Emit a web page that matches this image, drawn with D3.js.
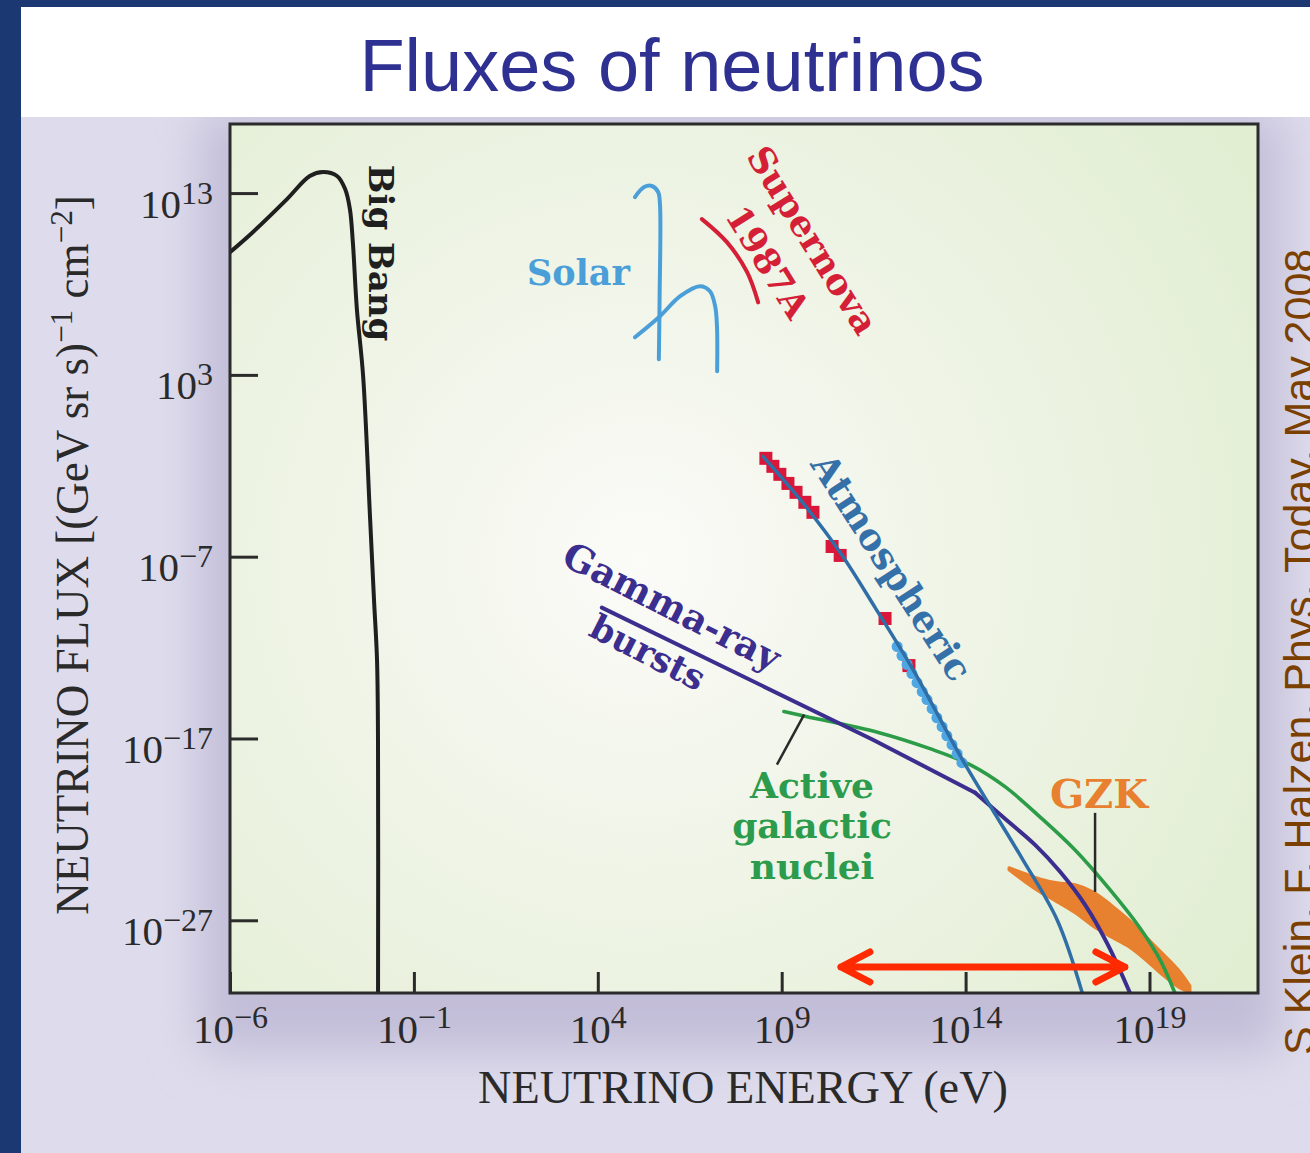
<!DOCTYPE html>
<html>
<head>
<meta charset="utf-8">
<title>Fluxes of neutrinos</title>
<script src="https://cdn.jsdelivr.net/npm/d3@7"></script>
<style>
  html, body { margin: 0; padding: 0; background: #1c3873; }
  svg { display: block; }
</style>
</head>
<body>
<svg id="chart" width="1310" height="1153"></svg>
<script>
// ---- Axis ticks (powers of ten) ----
const xTickExps = [-6, -1, 4, 9, 14, 19];
const yTickExps = [13, 3, -7, -17, -27];

// ---- Flux curves, stored as log10(energy / eV) and log10(flux) ----
const bigBangLogE    = [-6.00, -5.38, -4.45, -3.83, -3.47, -3.09, -2.87, -2.74, -2.66, -2.55, -2.38, -2.19, -2.085, -2.003, -1.976, -1.975];
const bigBangLogFlux = [ 9.75, 10.85, 12.67, 13.94, 14.16, 13.94, 13.22, 12.12, 10.30,  6.61,  2.92, -4.95, -9.36, -12.66, -17.07, -31.5];

const solarPpLogE    = [5.01, 5.26, 5.47, 5.64, 5.69, 5.68, 5.66];
const solarPpLogFlux = [12.78, 13.33, 13.39, 13.06, 12.39, 7.20, 3.86];

const solarBoronLogE    = [5.01, 5.69, 6.24, 6.78, 7.05, 7.19, 7.24, 7.245];
const solarBoronLogFlux = [5.07, 6.23, 7.33, 7.88, 7.60, 6.78, 5.68, 3.20];

const supernovaLogE    = [6.83, 7.51, 8.06, 8.36];
const supernovaLogFlux = [11.57, 10.30, 8.65, 6.99];

const atmosphericLogE    = [8.49, 9.50, 10.59, 11.54, 12.57, 13.96, 15.51, 16.49, 17.17];
const atmosphericLogFlux = [-1.48, -3.85, -6.77, -9.80, -13.21, -18.33, -23.51, -26.98, -30.98];

// measured atmospheric points: low-energy (red squares) and high-energy (blue dots)
const atmDataLowLogE    = [8.57, 8.76, 8.95, 9.17, 9.39, 9.63, 9.85, 10.37, 10.59, 11.81, 12.46];
const atmDataLowLogFlux = [-1.59, -2.03, -2.47, -2.97, -3.46, -4.01, -4.56, -6.44, -6.93, -10.40, -12.99];

const atmDataHighLogE    = [12.14, 12.27, 12.41, 12.54, 12.68, 12.82, 12.95, 13.09, 13.22, 13.36, 13.49, 13.63, 13.77, 13.90];
const atmDataHighLogFlux = [-11.94, -12.44, -12.93, -13.43, -13.93, -14.42, -14.86, -15.36, -15.86, -16.35, -16.85, -17.34, -17.84, -18.33];

// gamma-ray bursts: a power law up to the knee, then a steepening cut-off
const grbLogE    = [4.11, 11.48, 14.26, 15.04, 15.89, 16.57, 17.25, 17.87, 18.47];
const grbLogFlux = [-9.80, -17.07, -19.98, -21.36, -22.85, -24.33, -26.15, -28.35, -31.00];
const grbKneeIndex = 2;

const agnLogE    = [9.06, 9.69, 11.65, 13.03, 14.12, 15.07, 16.02, 16.97, 17.93, 18.74, 19.29, 19.69];
const agnLogFlux = [-15.52, -15.80, -16.68, -17.56, -18.44, -19.65, -21.31, -23.12, -25.33, -27.42, -29.18, -31.00];

const gzkLogE         = [15.18, 15.62, 16.02, 16.49, 16.98, 17.46, 17.95, 18.44, 18.93, 19.39, 19.83, 20.10];
const gzkLogFluxUpper = [-24.11, -24.44, -24.72, -24.94, -25.05, -25.44, -26.15, -26.98, -27.97, -28.90, -29.84, -30.61];
const gzkLogFluxLower = [-24.22, -24.89, -25.44, -25.99, -26.59, -27.31, -27.91, -28.46, -29.24, -30.06, -30.72, -30.94];

// energy window marked by the red double arrow
const arrowLogE = [10.61, 18.33];
const arrowLogFlux = -29.57;

// label leader lines
const agnLeaderLogE = [9.61, 8.87];
const agnLeaderLogFlux = [-15.69, -18.44];
const gzkLeaderLogE = [17.52, 17.52];
const gzkLeaderLogFlux = [-21.09, -25.44];

// ---- Page layout ----
const W = 1310, H = 1153;
const plot = { left: 230, right: 1258, top: 124, bottom: 993 };
const pow = v => Math.pow(10, v);

const x = d3.scaleLog().domain([pow(-6), pow(21.95)]).range([plot.left, plot.right]);
const y = d3.scaleLog().domain([pow(-31), pow(16.8)]).range([plot.bottom, plot.top]);

const svg = d3.select('#chart');
const defs = svg.append('defs');

// navy frame, white title band, lavender panel
svg.append('rect').attr('width', W).attr('height', H).attr('fill', '#1c3873');
svg.append('rect').attr('x', 21).attr('y', 7).attr('width', W - 21).attr('height', 110).attr('fill', '#ffffff');
svg.append('rect').attr('x', 21).attr('y', 117).attr('width', W - 21).attr('height', H - 117).attr('fill', '#dedcec');

// soft darker halo around the plot box
defs.append('filter').attr('id', 'halo').attr('x', '-20%').attr('y', '-20%').attr('width', '140%').attr('height', '140%')
  .append('feGaussianBlur').attr('stdDeviation', 24);
defs.append('clipPath').attr('id', 'panelClip')
  .append('rect').attr('x', 21).attr('y', 117).attr('width', W - 21).attr('height', H - 117);
svg.append('g').attr('clip-path', 'url(#panelClip)')
  .append('rect')
  .attr('x', plot.left - 30).attr('y', plot.top - 10)
  .attr('width', plot.right - plot.left + 55).attr('height', plot.bottom - plot.top + 70)
  .attr('fill', '#c2bdd8').attr('filter', 'url(#halo)');

// title
svg.append('text')
  .attr('x', 672).attr('y', 91)
  .attr('text-anchor', 'middle')
  .attr('font-family', '"Liberation Sans", Arial, sans-serif')
  .attr('font-size', 74)
  .attr('fill', '#2f3192')
  .text('Fluxes of neutrinos');

// credit along the right edge
svg.append('text')
  .attr('transform', 'translate(1314,1055) rotate(-90)')
  .attr('font-family', '"Liberation Sans", Arial, sans-serif')
  .attr('font-size', 43)
  .attr('fill', '#7b3f00')
  .text('S Klein, F. Halzen, Phys. Today, May 2008');

// plot background with a pale centre
const grad = defs.append('radialGradient').attr('id', 'plotBg')
  .attr('gradientUnits', 'userSpaceOnUse')
  .attr('cx', 640).attr('cy', 560).attr('r', 720);
grad.append('stop').attr('offset', 0).attr('stop-color', '#fbfbf8');
grad.append('stop').attr('offset', 0.3).attr('stop-color', '#f3f6ec');
grad.append('stop').attr('offset', 0.75).attr('stop-color', '#e8f1dc');
grad.append('stop').attr('offset', 1).attr('stop-color', '#e1eed2');

svg.append('rect')
  .attr('x', plot.left).attr('y', plot.top)
  .attr('width', plot.right - plot.left).attr('height', plot.bottom - plot.top)
  .attr('fill', 'url(#plotBg)');

defs.append('clipPath').attr('id', 'plotClip')
  .append('rect')
  .attr('x', plot.left).attr('y', plot.top)
  .attr('width', plot.right - plot.left).attr('height', plot.bottom - plot.top);

const marks = svg.append('g').attr('clip-path', 'url(#plotClip)');

const toPoints = (es, fs) => es.map((e, i) => [x(pow(e)), y(pow(fs[i]))]);
const smooth = d3.line().curve(d3.curveCatmullRom.alpha(0.5));
const straight = d3.line();

function curve(es, fs, color, width, gen = smooth) {
  marks.append('path')
    .attr('d', gen(toPoints(es, fs)))
    .attr('fill', 'none')
    .attr('stroke', color)
    .attr('stroke-width', width)
    .attr('stroke-linecap', 'round')
    .attr('stroke-linejoin', 'round');
}

// GZK band
const gzkArea = d3.area()
  .x(d => x(pow(d.e)))
  .y0(d => y(pow(d.lo)))
  .y1(d => y(pow(d.hi)))
  .curve(d3.curveCatmullRom.alpha(0.5));
marks.append('path')
  .datum(gzkLogE.map((e, i) => ({ e, hi: gzkLogFluxUpper[i], lo: gzkLogFluxLower[i] })))
  .attr('d', gzkArea)
  .attr('fill', '#e8812f')
  .attr('stroke', '#e8812f')
  .attr('stroke-width', 3)
  .attr('stroke-linejoin', 'round');

curve(bigBangLogE, bigBangLogFlux, '#1f1f1f', 4);
curve(solarPpLogE, solarPpLogFlux, '#4b9fd9', 4);
curve(solarBoronLogE, solarBoronLogFlux, '#4b9fd9', 4);
curve(supernovaLogE, supernovaLogFlux, '#d51f36', 4);
curve(agnLogE, agnLogFlux, '#2c9c48', 3.6);
// GRB: straight power law, sharp knee, curved cut-off
curve(grbLogE.slice(0, grbKneeIndex + 1), grbLogFlux.slice(0, grbKneeIndex + 1), '#3b2e8e', 4, straight);
curve(grbLogE.slice(grbKneeIndex), grbLogFlux.slice(grbKneeIndex), '#3b2e8e', 4);

// atmospheric measurements
marks.selectAll('rect.atm-low')
  .data(atmDataLowLogE.map((e, i) => [e, atmDataLowLogFlux[i]]))
  .join('rect')
  .attr('class', 'atm-low')
  .attr('x', d => x(pow(d[0])) - 6.5)
  .attr('y', d => y(pow(d[1])) - 6.5)
  .attr('width', 13).attr('height', 13)
  .attr('fill', '#d8173a');

marks.selectAll('circle.atm-high')
  .data(atmDataHighLogE.map((e, i) => [e, atmDataHighLogFlux[i]]))
  .join('circle')
  .attr('class', 'atm-high')
  .attr('cx', d => x(pow(d[0])))
  .attr('cy', d => y(pow(d[1])))
  .attr('r', 5.5)
  .attr('fill', '#4ea6e2');

curve(atmosphericLogE, atmosphericLogFlux, '#2f6ea6', 3.5);

// leader lines
function leader(es, fs) {
  marks.append('path')
    .attr('d', straight(toPoints(es, fs)))
    .attr('stroke', '#2a2a2a').attr('stroke-width', 2.5).attr('fill', 'none');
}
leader(agnLeaderLogE, agnLeaderLogFlux);
leader(gzkLeaderLogE, gzkLeaderLogFlux);

// red double arrow
{
  const xa = x(pow(arrowLogE[0])), xb = x(pow(arrowLogE[1])), ya = y(pow(arrowLogFlux));
  const p = d3.path();
  p.moveTo(xa, ya); p.lineTo(xb, ya);
  p.moveTo(xa + 29, ya - 15); p.lineTo(xa, ya); p.lineTo(xa + 29, ya + 15);
  p.moveTo(xb - 29, ya - 15); p.lineTo(xb, ya); p.lineTo(xb - 29, ya + 15);
  svg.append('path').attr('d', p.toString())
    .attr('fill', 'none').attr('stroke', '#ff2a00').attr('stroke-width', 7)
    .attr('stroke-linecap', 'round').attr('stroke-linejoin', 'round');
}

// ---- Curve labels ----
const labelFont = '"DejaVu Serif", serif';
function label(txt, cx, cy, angle, size, color, anchor = 'middle') {
  svg.append('text')
    .attr('transform', `translate(${cx},${cy}) rotate(${angle})`)
    .attr('text-anchor', anchor)
    .attr('dy', angle === 0 ? null : '0.36em')
    .attr('font-family', labelFont)
    .attr('font-weight', 'bold')
    .attr('font-size', size)
    .attr('fill', color)
    .text(txt);
}
label('Big Bang', 381, 253, 90, 34, '#1f1f1f');
label('Solar', 630, 285, 0, 35, '#4b9fd9', 'end');
label('Supernova', 813, 240, 58, 36, '#d51f36');
label('1987A', 768, 262, 58, 35, '#d51f36');
label('Atmospheric', 892, 567, 57, 37, '#3570a8');
label('Gamma-ray', 672, 606, 27, 37, '#3b2e8e');
label('bursts', 648, 652, 27, 35, '#3b2e8e');
label('Active', 812, 798, 0, 36, '#2c9c4c');
label('galactic', 812, 838, 0, 36, '#2c9c4c');
label('nuclei', 812, 879, 0, 36, '#2c9c4c');
label('GZK', 1099, 808, 0, 40, '#e8812f');

// ---- Axes ----
const tickFont = '"Liberation Serif", "Times New Roman", serif';
const expText = d => {
  const e = Math.round(Math.log10(d));
  return e < 0 ? '\u2212' + Math.abs(e) : String(e);
};

const gx = svg.append('g')
  .attr('transform', `translate(0,${plot.bottom})`)
  .call(d3.axisBottom(x).tickValues(xTickExps.map(pow)).tickSize(-21).tickFormat(() => ''));
gx.select('.domain').remove();
gx.selectAll('.tick line').attr('stroke', '#2b2b2b').attr('stroke-width', 3);
gx.selectAll('.tick text').each(function (d) {
  const t = d3.select(this);
  t.attr('y', 50).attr('dy', null).attr('fill', '#2a2a2a')
    .attr('font-family', tickFont).attr('text-anchor', 'middle');
  t.append('tspan').attr('font-size', 41).text('10');
  t.append('tspan').attr('font-size', 32).attr('dy', -15).text(expText(d));
});

const gy = svg.append('g')
  .attr('transform', `translate(${plot.left},0)`)
  .call(d3.axisLeft(y).tickValues(yTickExps.map(pow)).tickSize(-28).tickFormat(() => ''));
gy.select('.domain').remove();
gy.selectAll('.tick line').attr('stroke', '#2b2b2b').attr('stroke-width', 3);
gy.selectAll('.tick text').each(function (d) {
  const t = d3.select(this);
  t.attr('x', -17).attr('y', 24).attr('dy', null).attr('fill', '#2a2a2a')
    .attr('font-family', tickFont).attr('text-anchor', 'end');
  t.append('tspan').attr('font-size', 41).text('10');
  t.append('tspan').attr('font-size', 32).attr('dy', -14).text(expText(d));
});

// plot frame
svg.append('rect')
  .attr('x', plot.left).attr('y', plot.top)
  .attr('width', plot.right - plot.left).attr('height', plot.bottom - plot.top)
  .attr('fill', 'none').attr('stroke', '#2b2b2b').attr('stroke-width', 3);

// axis titles, fitted to their span
function axisTitle(parts, cx, cy, angle, span) {
  const g = svg.append('g');
  const t = g.append('text')
    .attr('text-anchor', 'middle')
    .attr('font-family', tickFont)
    .attr('font-size', 46)
    .attr('fill', '#2a2a2a');
  parts.forEach(p => {
    const s = t.append('tspan').text(p.text);
    if (p.sup) s.attr('font-size', 32).attr('dy', -16);
    else if (p.after) s.attr('dy', 16);
  });
  const len = t.node().getComputedTextLength();
  const k = span / len;
  g.attr('transform', `translate(${cx},${cy}) rotate(${angle}) scale(${k},1)`);
}
axisTitle([{ text: 'NEUTRINO ENERGY (eV)' }], 743, 1103, 0, 530);
axisTitle([
  { text: 'NEUTRINO FLUX [(GeV sr s)' },
  { text: '\u22121', sup: true },
  { text: ' cm', after: true },
  { text: '\u22122', sup: true },
  { text: ']', after: true }
], 88, 555, -90, 720);
</script>
</body>
</html>
